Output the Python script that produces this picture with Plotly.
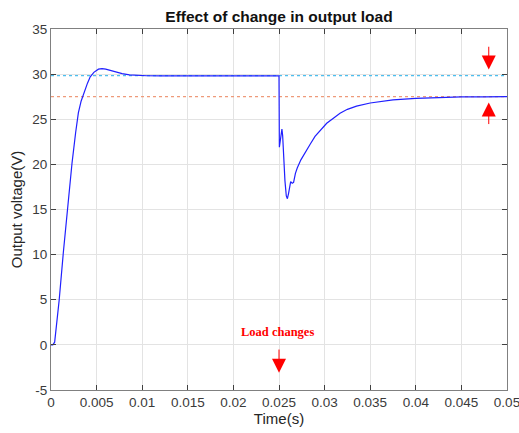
import plotly.graph_objects as go

# --- data ---
time_s = [0, 0.0002, 0.0004, 0.0006, 0.0009, 0.00135, 0.0018, 0.0023, 0.0027, 0.0030,
          0.0033, 0.0036, 0.0040, 0.0043, 0.0047, 0.0052, 0.0056, 0.0060, 0.0065, 0.0070,
          0.0078, 0.0086, 0.0095, 0.0105, 0.012, 0.015, 0.020, 0.0249, 0.02500,
          0.02504, 0.02512, 0.02524, 0.02532, 0.02540, 0.02550, 0.02565, 0.02580, 0.02592,
          0.02605, 0.02618, 0.02628, 0.02645, 0.02660, 0.02680, 0.02700, 0.02740, 0.02785,
          0.02840, 0.02895, 0.02960, 0.03023, 0.03100, 0.03169, 0.0325, 0.0335, 0.035,
          0.0375, 0.040, 0.0425, 0.045, 0.0475, 0.050]
voltage_v = [0, 0, 0.3, 2.0, 5.0, 10.2, 15.0, 20.1, 23.5, 25.7,
             27.0, 27.9, 29.0, 29.7, 30.2, 30.55, 30.6, 30.55, 30.4, 30.25,
             30.05, 29.92, 29.85, 29.82, 29.8, 29.8, 29.8, 29.8, 29.8,
             21.9, 22.6, 23.6, 23.9, 23.2, 21.0, 18.2, 16.5, 16.2,
             16.8, 17.8, 18.1, 17.9, 18.0, 19.0, 19.6, 20.5, 21.2,
             22.2, 23.1, 23.9, 24.55, 25.15, 25.66, 26.1, 26.45, 26.8,
             27.15, 27.32, 27.42, 27.47, 27.49, 27.5]

level_before = 29.83   # steady state before load change
level_after = 27.5     # steady state after load change
t_range = [0, 0.05]

x_ticks = [0, 0.005, 0.01, 0.015, 0.02, 0.025, 0.03, 0.035, 0.04, 0.045, 0.05]
x_tick_labels = ["0", "0.005", "0.01", "0.015", "0.02", "0.025", "0.03", "0.035", "0.04", "0.045", "0.05"]
y_ticks = [-5, 0, 5, 10, 15, 20, 25, 30, 35]
y_tick_labels = ["-5", "0", "5", "10", "15", "20", "25", "30", "35"]

load_change_t = 0.025
marker_t = 0.048

fig = go.Figure()
fig.add_trace(go.Scatter(x=t_range, y=[level_before, level_before], mode="lines",
                         line=dict(color="#4DBEEE", width=1.3, dash="dot"), showlegend=False))
fig.add_trace(go.Scatter(x=t_range, y=[level_after, level_after], mode="lines",
                         line=dict(color="#EE9A7A", width=1.3, dash="dot"), showlegend=False))
fig.add_trace(go.Scatter(x=time_s, y=voltage_v, mode="lines",
                         line=dict(color="#2020FF", width=1.2), showlegend=False))

arrow_common = dict(xref="x", yref="y", axref="x", ayref="y", showarrow=True,
                    arrowhead=2, arrowsize=2.8, arrowwidth=1, arrowcolor="#FF0000", text="")
fig.add_annotation(x=marker_t, y=30.5, ax=marker_t, ay=33.2, **arrow_common)
fig.add_annotation(x=marker_t, y=26.85, ax=marker_t, ay=24.3, **arrow_common)
fig.add_annotation(x=load_change_t, y=-3.1, ax=load_change_t, ay=-0.35, **arrow_common)
fig.add_annotation(x=0.0248, y=1.4, text="<b>Load changes</b>", showarrow=False,
                   xref="x", yref="y",
                   font=dict(family="Liberation Serif, Times New Roman, serif", size=12.5, color="#FF0000"))

axis_common = dict(showline=True, linecolor="#808080", linewidth=1, mirror="ticks",
                   ticks="inside", ticklen=5, tickcolor="#404040", tickwidth=1,
                   showgrid=True, gridcolor="#E3E3E3", gridwidth=1, zeroline=False,
                   automargin=False, ticklabeloverflow="allow",
                   tickfont=dict(family="Liberation Sans, Arial, sans-serif", size=13.5, color="#3a3a3a"))

fig.update_xaxes(range=t_range, tickvals=x_ticks, ticktext=x_tick_labels,
                 title=dict(text="Time(s)", standoff=4,
                            font=dict(family="Liberation Sans, Arial, sans-serif", size=15, color="#262626")),
                 **axis_common)
fig.update_yaxes(range=[-5, 35], tickvals=y_ticks, ticktext=y_tick_labels,
                 title=dict(text="Output voltage(V)", standoff=6,
                            font=dict(family="Liberation Sans, Arial, sans-serif", size=15, color="#262626")),
                 **axis_common)

fig.update_layout(
    width=519, height=433,
    margin=dict(l=51, r=12, t=29, b=43),
    paper_bgcolor="white", plot_bgcolor="white",
    title=dict(text="<b>Effect of change in output load</b>", x=(51 + 507) / 2 / 519, xanchor="center",
               y=1 - 16.5 / 433, yanchor="middle",
               font=dict(family="Liberation Sans, Arial, sans-serif", size=15.5, color="#111111")),
)

fig.write_html(
    "out.html",
    config={"displayModeBar": False},
    post_script=("document.body.style.margin='0';"
                 "document.body.style.overflow='hidden';"
                 "document.documentElement.style.overflow='hidden';"),
)
